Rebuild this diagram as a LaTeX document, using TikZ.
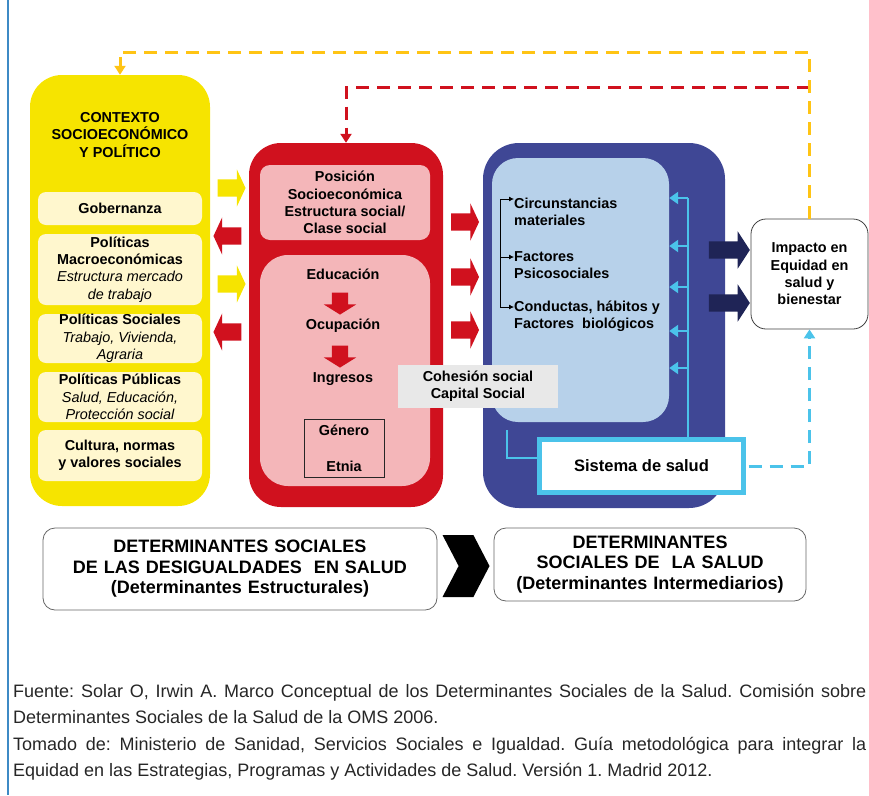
\documentclass[tikz,border=0pt]{standalone}
\usepackage{fontspec}
\setmainfont{Liberation Sans}
\usetikzlibrary{arrows.meta,shapes.arrows,shapes.symbols}
\frenchspacing

\definecolor{amarillo}{RGB}{246,228,0}
\definecolor{crema}{RGB}{255,247,206}
\definecolor{rojo}{RGB}{208,17,30}
\definecolor{rosa}{RGB}{244,182,185}
\definecolor{azul}{RGB}{63,71,149}
\definecolor{celeste}{RGB}{183,209,234}
\definecolor{cian}{RGB}{75,195,234}
\definecolor{marino}{RGB}{31,36,86}
\definecolor{gris}{RGB}{232,232,232}
\definecolor{oro}{RGB}{255,196,20}
\definecolor{borde}{RGB}{61,138,197}

\newcommand{\detalle}[1]{{\mdseries\itshape #1}}

\begin{document}
\begin{tikzpicture}[x=1pt, y=-1pt,
		txt/.style={font=\fontsize{14.4}{17.3}\selectfont\bfseries, align=center, inner sep=0pt},
		cajacrema/.style={txt, fill=crema, rounded corners=8pt, minimum width=164pt},
		flechagorda/.style={single arrow, single arrow head extend=10pt, single arrow tip angle=130,
			inner sep=8.5pt, minimum height=28pt},
		flechita/.style={single arrow, single arrow head extend=8pt, single arrow tip angle=116,
			inner sep=8pt, minimum height=22pt, fill=rojo, shape border rotate=270},
		punteada/.style={line width=3pt, dash pattern=on 13pt off 8pt},
		puntacolor/.style={-{Triangle[length=9pt,width=11pt]}},
		lineacian/.style={cian, line width=2.5pt},
		pie/.style={text width=427pt, align=center, inner sep=0pt,
			font=\fontsize{18}{20.5}\selectfont\bfseries}]
	\useasboundingbox (0,0) rectangle (869,795);
	
	% margin line
	\draw[borde, line width=1.5pt] (8,0) -- (8,795);
	
	% Coordinates for the feedback lines
	\coordinate (arriba) at (0,52);
	\coordinate (medio) at (0,87);
	
	% Impact box (first, lines start here)
	\node[txt, draw=black!75, line width=0.8pt, fill=white, rounded corners=15pt,
	minimum width=117pt, minimum height=110pt] (impacto) at (809.5,274)
	{Impacto en\\Equidad en\\salud y\\bienestar};
	
	% Context box
	\node[fill=amarillo, rounded corners=32pt, minimum width=180pt, minimum height=431pt] (contexto) at (120,290.5) {};
	\node[txt] (titulo) at (120,135) {CONTEXTO\\SOCIOECONÓMICO\\Y POLÍTICO};
	\node[cajacrema, minimum height=33pt] (gob) at (120,208.5) {Gobernanza};
	\node[cajacrema, minimum height=71pt] (macro) at (120,269.5)
	{Políticas\\Macroeconómicas\\\detalle{Estructura mercado}\\\detalle{de trabajo}};
	\node[cajacrema, minimum height=49pt] (sociales) at (120,338.5)
	{Políticas Sociales\\\detalle{Trabajo, Vivienda,}\\\detalle{Agraria}};
	\node[cajacrema, minimum height=50pt] (publicas) at (120,397)
	{Políticas Públicas\\\detalle{Salud, Educación,}\\\detalle{Protección social}};
	\node[cajacrema, minimum height=51pt] (cultura) at (120,455.5)
	{Cultura, normas\\y valores sociales};
	
	% Structural box
	\node[fill=rojo, rounded corners=32pt, minimum width=194pt, minimum height=364pt] (estructural) at (346,325) {};
	\node[txt, fill=rosa, rounded corners=10pt, minimum width=170pt, minimum height=75pt] (posicion) at (345,202.5)
	{Posición\\Socioeconómica\\Estructura social/\\Clase social};
	\node[fill=rosa, rounded corners=28pt, minimum width=170pt, minimum height=231pt] (ejes) at (345,370.5) {};
	\node[txt] (educ) at (343,274) {Educación};
	\node[txt] (ocup) at (343,326) {Ocupación};
	\node[txt] (ingr) at (343,379) {Ingresos};
	\node[flechita] (f1) at (340,301) {};
	\node[flechita] (f2) at (340,354) {};
	\node[txt, draw=black!85, line width=0.8pt, minimum width=80pt, minimum height=58pt] (genero) at (344,448)
	{Género\\[18.7pt]Etnia};
	
	% Intermediary box
	\node[fill=azul, rounded corners=36pt, minimum width=242pt, minimum height=365pt] (intermedio) at (604,325.5) {};
	\node[fill=celeste, rounded corners=26pt, minimum width=177pt, minimum height=264pt] (claro) at (580.5,290) {};
	\node[txt, align=left, anchor=west] (circ) at (514,212) {Circunstancias\\materiales};
	\node[txt, align=left, anchor=west] (psico) at (514,265) {Factores\\Psicosociales};
	\node[txt, align=left, anchor=west] (conduc) at (514,316.5) {Conductas, hábitos y\\Factores\ \ biológicos};
	
	% small black bracket
	\coordinate (a1) at ([yshift=13pt]circ.west);
	\coordinate (a2) at ([yshift=8pt]psico.west);
	\coordinate (a3) at ([yshift=9.5pt]conduc.west);
	\coordinate (tronco) at (500,0);
	\draw[line width=0.8pt, {Latex[length=5pt,width=5pt]}-{Latex[length=5pt,width=5pt]}]
	(a1) -- (a1 -| tronco) -- (a3 -| tronco) -- (a3);
	\draw[line width=0.8pt, -{Latex[length=5pt,width=5pt]}] (a2 -| tronco) -- (a2);
	
	% Health system
	\node[font=\fontsize{16.5}{19}\selectfont\bfseries, draw=cian, line width=5pt, fill=white,
	minimum width=204pt, minimum height=53pt, inner sep=0pt] (sistema) at (641.5,466) {Sistema de salud};
	\coordinate (eje) at (688,198);
	\coordinate (ele) at (507,430);
	\draw[lineacian] (eje) -- (eje |- sistema.north);
	\foreach \y in {198,246,287,331,368}
	\draw[lineacian, -{Triangle[length=9pt,width=12pt]}] (688,\y) -- (claro.east |- 0,\y);
	\draw[lineacian] (ele) |- ([yshift=8pt]sistema.west);
	
	% Feedback lines
	\draw[lineacian, punteada, line width=3pt, puntacolor] ([xshift=2.5pt]sistema.east) -| (impacto.south);
	\draw[rojo, punteada, puntacolor] (impacto.north |- medio) -| (estructural.north);
	\draw[oro, punteada, puntacolor] (impacto.north) -- (impacto.north |- arriba) -| (contexto.north);
	
	% Wide arrows
	\node[flechagorda, fill=amarillo] (y1) at (229.5,188) {};
	\node[flechagorda, fill=rojo, shape border rotate=180] (r1) at (229.5,236) {};
	\node[flechagorda, fill=amarillo] (y2) at (229.5,284) {};
	\node[flechagorda, fill=rojo, shape border rotate=180] (r2) at (229.5,332) {};
	\foreach \y/\n in {222/m1,277/m2,330/m3}
	\node[flechagorda, fill=rojo] (\n) at (463,\y) {};
	\node[flechagorda, fill=marino, minimum height=41pt, single arrow tip angle=114] (n1) at (726.5,250) {};
	\node[flechagorda, fill=marino, minimum height=41pt, single arrow tip angle=114] (n2) at (726.5,303) {};
	
	% Social cohesion
	\node[txt, fill=gris, minimum width=160pt, minimum height=43pt] (cohesion) at (478,386.5)
	{Cohesión social\\Capital Social};
	
	% Bottom labels
	\node[pie, draw=black!60, line width=0.8pt, rounded corners=12pt, text width=394pt,
	minimum height=82pt] (estructurales) at (240,569)
	{DETERMINANTES SOCIALES\\DE LAS DESIGUALDADES\ \ EN SALUD\\(Determinantes Estructurales)};
	\node[pie, draw=black!60, line width=0.8pt, rounded corners=12pt, text width=312pt,
	minimum height=73pt] (intermedios) at (650,564.5)
	{DETERMINANTES\\SOCIALES DE\ \ LA SALUD\\(Determinantes Intermediarios)};
	\node[signal, signal to=east, signal from=west, signal pointer angle=125, fill=black,
	minimum width=47pt, minimum height=62pt, inner sep=0pt] (chevron) at (466,566) {};
	
	% Source
	\node[anchor=north west, text width=853pt, align=justify, inner sep=0pt, text=black!85,
	font=\fontsize{18}{26.3}\selectfont] (fuente) at (13,684)
	{Fuente: Solar O, Irwin A. Marco Conceptual de los Determinantes Sociales de la Salud. Comisión sobre\linebreak
		Determinantes Sociales de la Salud de la OMS 2006.\\
		Tomado de: Ministerio de Sanidad, Servicios Sociales e Igualdad. Guía metodológica para integrar la\linebreak
		Equidad en las Estrategias, Programas y Actividades de Salud. Versión 1. Madrid 2012.};
\end{tikzpicture}
\end{document}
